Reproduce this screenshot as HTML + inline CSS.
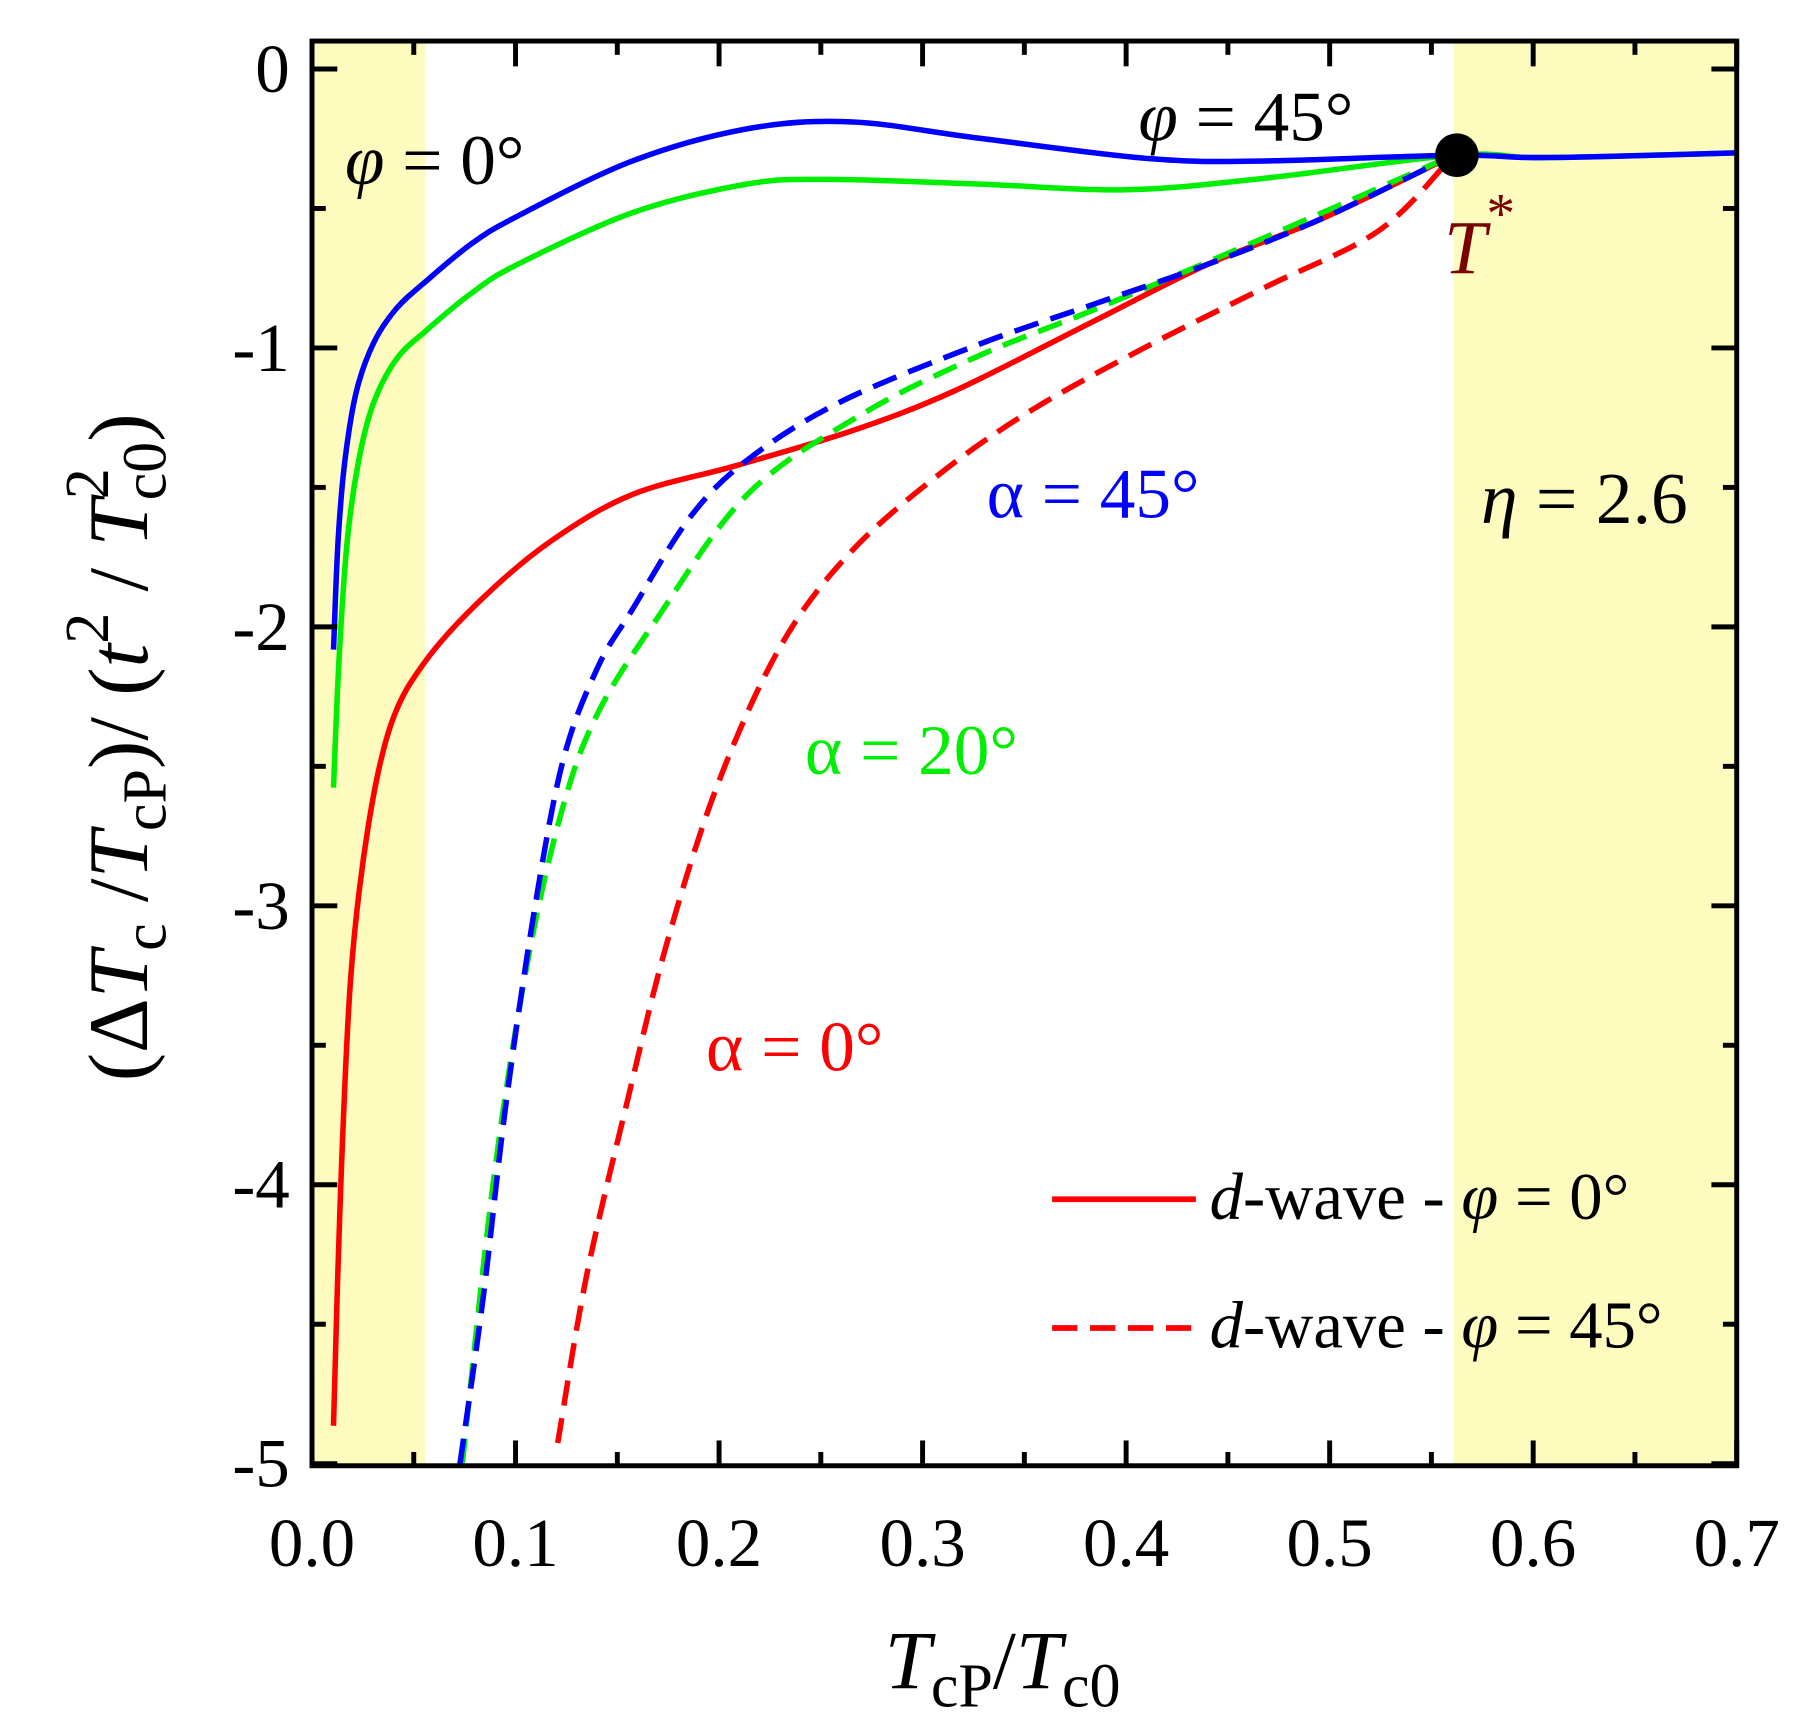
<!DOCTYPE html>
<html><head><meta charset="utf-8"><style>
html,body{margin:0;padding:0;background:#fff;}
svg{display:block;}
text,tspan{font-family:"Liberation Serif",serif;}
.g{font-family:"DejaVu Serif","Liberation Serif",serif;}
</style></head><body>
<svg id="s" width="1803" height="1724" viewBox="0 0 1568 1499.4" xmlns="http://www.w3.org/2000/svg">
<rect x="271.3" y="35.7" width="98.7" height="1239" fill="#fdfbbd"/>
<rect x="1264" y="35.7" width="246.4" height="1239" fill="#fdfbbd"/>
<g id="curves" fill="none" stroke-linecap="butt" stroke-linejoin="round"></g>
<circle cx="1267" cy="135" r="19" fill="#000"/>
<g id="ticks" stroke="#000" stroke-width="4.3"></g>
<rect x="271.3" y="35.7" width="1239.1" height="1239.1" fill="none" stroke="#000" stroke-width="4.3"/>
<g font-size="60" text-anchor="middle" id="xl"></g>
<g font-size="60" text-anchor="end" id="yl"></g>
<text x="872" y="1468" font-size="72" text-anchor="middle"><tspan font-style="italic">T</tspan><tspan font-size="54" dy="16">cP</tspan><tspan dy="-16">/</tspan><tspan font-style="italic">T</tspan><tspan font-size="54" dy="16">c0</tspan></text>
<text transform="translate(128,650) rotate(-90)" font-size="74" text-anchor="middle">(Δ<tspan font-style="italic">T</tspan><tspan font-size="54" dy="16">c</tspan><tspan dy="-16"> /</tspan><tspan font-style="italic">T</tspan><tspan font-size="54" dy="16">cP</tspan><tspan dy="-16">)/ (</tspan><tspan font-style="italic">t</tspan><tspan font-size="54" dy="-34">2</tspan><tspan dy="34"> / </tspan><tspan font-style="italic">T</tspan><tspan font-size="54" dy="-34">2</tspan><tspan font-size="54" dx="-28" dy="50">c0</tspan><tspan dy="-16">)</tspan></text>
<text x="300" y="160" font-size="62"><tspan font-style="italic">φ</tspan><tspan> = 0°</tspan></text>
<text x="990" y="122" font-size="62"><tspan font-style="italic">φ</tspan><tspan> = 45°</tspan></text>
<text x="1256" y="238" font-size="66" fill="#7a0000"><tspan font-style="italic">T</tspan><tspan font-size="50" dy="-36">*</tspan></text>
<text x="1288" y="455" font-size="64"><tspan font-style="italic">η</tspan><tspan> = 2.6</tspan></text>
<text x="858" y="450" font-size="62" fill="#0000ff"><tspan>α</tspan><tspan> = 45°</tspan></text>
<text x="700" y="673" font-size="62" fill="#00ee00"><tspan>α</tspan><tspan> = 20°</tspan></text>
<text x="614" y="931" font-size="62" fill="#ff0000"><tspan>α</tspan><tspan> = 0°</tspan></text>
<line x1="915" y1="1043" x2="1040" y2="1043" stroke="#ff0000" stroke-width="5"/>
<line x1="915" y1="1155" x2="1040" y2="1155" stroke="#ff0000" stroke-width="5" stroke-dasharray="22 11"/>
<text x="1052" y="1060" font-size="58"><tspan font-style="italic">d</tspan><tspan>-wave - </tspan><tspan font-style="italic">φ</tspan><tspan> = 0°</tspan></text>
<text x="1052" y="1172" font-size="58"><tspan font-style="italic">d</tspan><tspan>-wave - </tspan><tspan font-style="italic">φ</tspan><tspan> = 45°</tspan></text>
</svg>
<script>
var NS="http://www.w3.org/2000/svg";
function el(p,t,a){var e=document.createElementNS(NS,t);for(var k in a)e.setAttribute(k,a[k]);p.appendChild(e);return e;}
function cr(pts){var d="M"+pts[0][0]+","+pts[0][1];for(var i=0;i<pts.length-1;i++){var p0=pts[Math.max(0,i-1)],p1=pts[i],p2=pts[i+1],p3=pts[Math.min(pts.length-1,i+2)];
var c1=[p1[0]+(p2[0]-p0[0])/6,p1[1]+(p2[1]-p0[1])/6],c2=[p2[0]-(p3[0]-p1[0])/6,p2[1]-(p3[1]-p1[1])/6];
d+=" C"+c1[0].toFixed(1)+","+c1[1].toFixed(1)+" "+c2[0].toFixed(1)+","+c2[1].toFixed(1)+" "+p2[0]+","+p2[1];}return d;}
var tail=[[1264,135],[1330,137],[1400,136],[1510,133]];
var C=[
["#00ee00",0,[[290,685],[295,570],[302,470],[312,400],[325,350],[345,312],[370,288],[410,255],[450,230],[550,185],[650,160],[720,156],[850,160],[980,165],[1100,155]].concat(tail)],
["#0000ff",0,[[290,565],[294,470],[300,400],[310,340],[325,298],[345,268],[370,245],[410,212],[450,188],[550,140],[650,112],[740,106],[850,120],[1000,138],[1100,140]].concat(tail)],
["#ff0000",0,[[290,1240],[296,1040],[305,850],[320,720],[340,630],[370,575],[420,520],[480,470],[550,430],[640,405],[740,375],[830,340],[950,280],[1050,230],[1150,190],[1264,135]]],
["#ff0000",1,[[485,1255],[510,1110],[545,960],[580,820],[625,680],[680,560],[740,480],[820,410],[900,355],[1000,300],[1100,250],[1200,200],[1264,135]]],
["#00ee00",1,[[402,1273],[430,1020],[460,830],[490,700],[520,620],[570,540],[650,430],[750,360],[850,310],[950,270],[1050,228],[1150,185],[1264,135]]],
["#0000ff",1,[[400,1273],[420,1130],[440,960],[465,790],[490,660],[520,580],[550,530],[600,450],[650,400],[730,350],[850,300],[950,265],[1050,230],[1150,190],[1264,135]]]
];
var g=document.getElementById("curves");
C.forEach(function(c){var a={d:cr(c[2]),stroke:c[0],"stroke-width":4.8};if(c[1])a["stroke-dasharray"]="22 11";el(g,"path",a);});
var tk=document.getElementById("ticks"),L=271.3,R=1510.4,T=35.7,B=1274.8;
function X(v){return L+v/0.7*(R-L);} function Y(v){return 60-v*242.6;}
for(var i=0;i<=14;i++){var x=X(i*0.05),len=i%2?12:22;el(tk,"line",{x1:x,y1:B,x2:x,y2:B-len});el(tk,"line",{x1:x,y1:T,x2:x,y2:T+len});
if(i%2==0){var t=el(document.getElementById("xl"),"text",{x:x,y:1362});t.textContent=(i*0.05).toFixed(1);}}
for(var j=0;j<=10;j++){var y=Y(-j*0.5),len=j%2?12:22;el(tk,"line",{x1:L,y1:y,x2:L+len,y2:y});el(tk,"line",{x1:R,y1:y,x2:R-len,y2:y});
if(j%2==0){var t=el(document.getElementById("yl"),"text",{x:252,y:y+20});t.textContent=j==0?"0":"-"+(j/2);}}
</script>
</body></html>
